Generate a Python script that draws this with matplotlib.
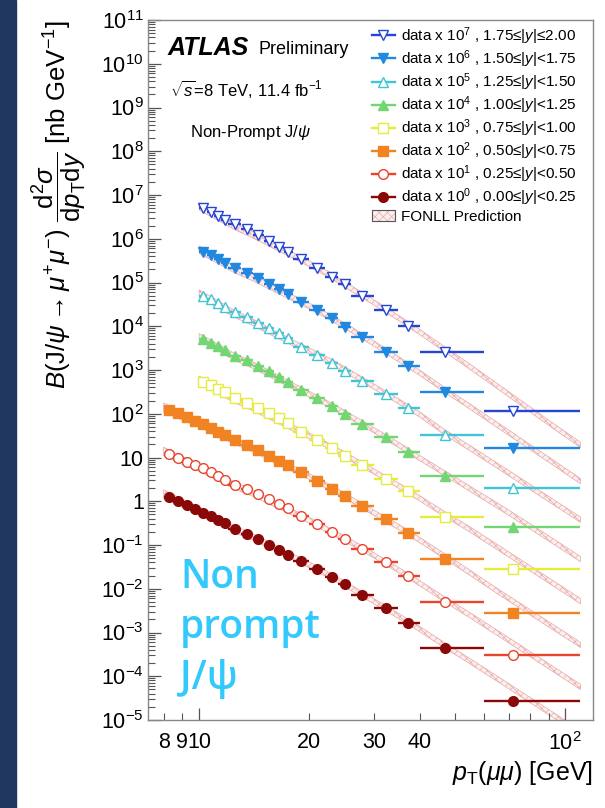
import matplotlib
matplotlib.use('Agg')
import matplotlib.pyplot as plt
import numpy as np
from matplotlib.ticker import FixedLocator, FixedFormatter, LogLocator, NullFormatter
from matplotlib.lines import Line2D
from matplotlib.patches import Patch, Rectangle

# ---------------- data ----------------
pt_edges_lo = [8, 8.5, 9, 9.5, 10, 10.5, 11, 11.5, 12, 13, 14, 15, 16, 17, 18, 20, 22, 24, 26, 30, 35, 40, 60, 110]
pt_mean_lo = [8.25, 8.75, 9.25, 9.75, 10.25, 10.75, 11.25, 11.75, 12.5, 13.5, 14.5, 15.5, 16.5, 17.5,
              19, 21, 23, 25, 27.8, 32.3, 37.3, 47, 72]
pt_edges_hi = pt_edges_lo[4:]
pt_mean_hi = pt_mean_lo[4:]

labels = [
    'data x 10$^{7}$ , 1.75≤|$y$|≤2.00',
    'data x 10$^{6}$ , 1.50≤|$y$|<1.75',
    'data x 10$^{5}$ , 1.25≤|$y$|<1.50',
    'data x 10$^{4}$ , 1.00≤|$y$|<1.25',
    'data x 10$^{3}$ , 0.75≤|$y$|<1.00',
    'data x 10$^{2}$ , 0.50≤|$y$|<0.75',
    'data x 10$^{1}$ , 0.25≤|$y$|<0.50',
    'data x 10$^{0}$ , 0.00≤|$y$|<0.25',
]

y_175_200 = [4.96e6, 4.0e6, 3.37e6, 2.75e6, 2.14e6, 1.64e6, 1.22e6, 8.9e5, 6.6e5, 5.07e5, 3.39e5, 2.11e5,
             1.36e5, 9.1e4, 4.9e4, 2.35e4, 1.03e4, 2620, 115.6]
y_150_175 = [5.07e5, 4.15e5, 3.45e5, 2.85e5, 2.2e5, 1.68e5, 1.25e5, 9.1e4, 7.1e4, 5.37e4, 3.64e4, 2.35e4,
             1.51e4, 9770, 5770, 2620, 1256, 309, 16.7]
y_125_150 = [5.0e4, 4.1e4, 3.4e4, 2.8e4, 2.1e4, 1.6e4, 1.2e4, 9000, 6900, 5300, 3410, 2200,
             1420, 964, 575, 285, 133, 32.7, 2.04]
y_100_125 = [5000, 4150, 3450, 2850, 2100, 1650, 1250, 948, 703, 545, 349, 225,
             150, 97, 58, 29, 13.5, 3.84, 0.254]
y_075_100 = [540, 445, 370, 310, 235, 180, 136, 104, 78, 60, 39, 25,
             16.7, 10.8, 6.7, 3.3, 1.7, 0.444, 0.0283]
y_050_075 = [122, 104, 86, 70, 57.3, 46.4, 38.9, 32.7, 25, 19.5, 14.5, 11, 8.5, 6.6,
             4.58, 2.95, 1.94, 1.32, 0.78, 0.39, 0.19, 0.0478, 2.74e-3]
y_025_050 = [12.0, 9.6, 8.0, 6.9, 5.7, 4.7, 3.8, 3.1, 2.35, 1.9, 1.47, 1.11, 0.865, 0.69,
             0.46, 0.30, 0.20, 0.135, 0.082, 0.041, 0.0195, 5.1e-3, 3.06e-4]
y_000_025 = [1.27, 1.0, 0.82, 0.67, 0.55, 0.45, 0.375, 0.313, 0.228, 0.175, 0.134, 0.100, 0.077, 0.059,
             0.0438, 0.0283, 0.0189, 0.0126, 0.0072, 0.00357, 0.00168, 4.5e-4, 2.7e-5]

fonll_pt_lo = [8, 9, 10, 11, 12.5, 14, 16, 18, 20, 23, 26, 30, 35, 40, 47, 55, 65, 77, 92, 110]
fonll_pt_hi = fonll_pt_lo[2:]
fonll_unc_lo = [0.26, 0.24, 0.22, 0.21, 0.20, 0.19, 0.18, 0.17, 0.17, 0.16, 0.16, 0.15, 0.15, 0.15,
                0.15, 0.15, 0.15, 0.15, 0.15, 0.15]
fonll_unc_hi = fonll_unc_lo[2:]

f_175_200 = [5.51e6, 3.545e6, 1.927e6, 1.244e6, 6.966e5, 4.197e5, 2.686e5, 1.401e5, 7.35e4, 3.5e4,
             1.55e4, 7400, 2911, 1176, 436, 158.6, 55.0, 19.4]
f_150_175 = [564100, 362800, 199500, 130200, 73790, 44670, 28980, 15360, 8418, 4036,
             1779, 869, 343.6, 144.7, 56.2, 21.6, 7.95, 2.87]
f_125_150 = [55600, 35450, 19050, 12440, 6880, 4215, 2750, 1520, 844, 418,
             193, 96.5, 37.1, 16.2, 6.6, 2.63, 1.0, 0.378]
f_100_125 = [5563, 3628, 1995, 1302, 729, 436, 279, 152, 84.5, 42.2,
             19.5, 9.73, 4.28, 1.91, 0.81, 0.331, 0.126, 0.0476]
f_075_100 = [596, 389, 214, 139.5, 79.1, 47.8, 31.2, 17.0, 9.57, 4.8,
             2.29, 1.17, 0.495, 0.224, 0.091, 0.0363, 0.0138, 5.2e-3]
f_050_075 = [140, 89, 61, 41.6, 24.0, 16.0, 9.18, 5.62, 3.66, 1.98, 1.10, 0.544, 0.26, 0.130,
             0.0542, 0.0229, 9.0e-3, 3.59e-3, 1.37e-3, 5.2e-4]
f_025_050 = [13.7, 8.6, 5.9, 3.98, 2.29, 1.55, 0.895, 0.556, 0.367, 0.202, 0.1155, 0.0582, 0.0269,
             0.01344, 5.6e-3, 2.45e-3, 9.97e-4, 3.98e-4, 1.51e-4, 5.7e-5]
f_000_025 = [1.45, 0.90, 0.61, 0.407, 0.229, 0.153, 0.0877, 0.0537, 0.035, 0.0189, 0.0105, 0.0052,
             0.0024, 0.0012, 5.0e-4, 2.19e-4, 8.9e-5, 3.55e-5, 1.35e-5, 5.1e-6]

# ---------------- styles ----------------
colors = ['#2446d6', '#2188e2', '#3fc5d6', '#72d672', '#e4ee3a', '#f28322', '#e8452c', '#8b0808']
markers = ['v', 'v', '^', '^', 's', 's', 'o', 'o']
filled = [False, True, False, True, False, True, False, True]
msizes = [7.5, 7.5, 7.5, 7.5, 6.5, 6.5, 7, 7]

series = [
    (pt_mean_hi, pt_edges_hi, y_175_200, fonll_pt_hi, f_175_200, fonll_unc_hi),
    (pt_mean_hi, pt_edges_hi, y_150_175, fonll_pt_hi, f_150_175, fonll_unc_hi),
    (pt_mean_hi, pt_edges_hi, y_125_150, fonll_pt_hi, f_125_150, fonll_unc_hi),
    (pt_mean_hi, pt_edges_hi, y_100_125, fonll_pt_hi, f_100_125, fonll_unc_hi),
    (pt_mean_hi, pt_edges_hi, y_075_100, fonll_pt_hi, f_075_100, fonll_unc_hi),
    (pt_mean_lo, pt_edges_lo, y_050_075, fonll_pt_lo, f_050_075, fonll_unc_lo),
    (pt_mean_lo, pt_edges_lo, y_025_050, fonll_pt_lo, f_025_050, fonll_unc_lo),
    (pt_mean_lo, pt_edges_lo, y_000_025, fonll_pt_lo, f_000_025, fonll_unc_lo),
]

plt.rcParams['font.family'] = ['Liberation Sans', 'DejaVu Sans']
plt.rcParams['mathtext.fontset'] = 'custom'
plt.rcParams['mathtext.rm'] = 'Liberation Sans'
plt.rcParams['mathtext.it'] = 'Liberation Sans:italic'
plt.rcParams['mathtext.bf'] = 'Liberation Sans:bold'
plt.rcParams['hatch.linewidth'] = 0.5

band_face = '#fdeeee'
band_edge = '#e6aaaa'

fig = plt.figure(figsize=(6.05, 8.08), dpi=100)
fig.patches.append(Rectangle((0, 0), 16 / 605, 1, transform=fig.transFigure,
                             color='#20375f', zorder=0))
ax = fig.add_axes([148 / 605, 1 - 720 / 808, 445 / 605, 700 / 808])

for i, (xm, edges, yv, fpt, fv, fu) in enumerate(series):
    fpt = np.array(fpt); fv = np.array(fv); fu = np.array(fu)
    ax.fill_between(fpt, fv / (1 + fu), fv * (1 + fu), facecolor=band_face,
                    edgecolor=band_edge, hatch='xxxx', linewidth=0.5, zorder=1)

for i, (xm, edges, yv, fpt, fv, fu) in enumerate(series):
    xm = np.array(xm); e = np.array(edges)
    xerr = [xm - e[:-1], e[1:] - xm]
    ax.errorbar(xm, yv, xerr=xerr, fmt=markers[i], color=colors[i],
                mfc=colors[i] if filled[i] else 'white', mec=colors[i], mew=1.0,
                ms=msizes[i], elinewidth=1.7, capsize=0, linestyle='none', zorder=3)

ax.set_xscale('log')
ax.set_yscale('log')
ax.set_xlim(7.25, 119)
ax.set_ylim(1e-5, 1e11)

ax.xaxis.set_major_locator(FixedLocator([10, 100]))
ax.xaxis.set_major_formatter(FixedFormatter(['10', '$10^{2}$']))
ax.xaxis.set_minor_locator(FixedLocator([8, 9, 20, 30, 40, 50, 60, 70, 80, 90]))
ax.xaxis.set_minor_formatter(FixedFormatter(['8', '9', '20', '30', '40', '', '', '', '', '']))

yt = [10.0 ** k for k in range(-5, 12)]
ylabs = []
for k in range(-5, 12):
    if k == 0:
        ylabs.append('1')
    elif k == 1:
        ylabs.append('10')
    else:
        ylabs.append('$10^{%d}$' % k)
ax.yaxis.set_major_locator(FixedLocator(yt))
ax.yaxis.set_major_formatter(FixedFormatter(ylabs))
ax.yaxis.set_minor_locator(LogLocator(base=10, subs=np.arange(2, 10), numticks=200))
ax.yaxis.set_minor_formatter(NullFormatter())

ax.tick_params(axis='both', which='both', direction='in', top=False, right=False,
               color='#555555', labelsize=15.5)
ax.tick_params(axis='both', which='major', length=9, width=0.9)
ax.tick_params(axis='both', which='minor', length=5, width=0.8)
ax.tick_params(axis='x', which='both', pad=9)
ax.tick_params(axis='y', which='both', pad=3)
for s in ax.spines.values():
    s.set_color('#888888')
    s.set_linewidth(1.0)

ax.text(-0.2, 1.0,
        r'$\mathit{B}(\mathrm{J}/\psi\rightarrow\mu^{+}\mu^{-})\ \dfrac{\mathrm{d}^{2}\sigma}{\mathrm{d}p_{\mathrm{T}}\mathrm{d}y}$ [nb GeV$^{-1}$]',
        rotation=90, ha='center', va='top', transform=ax.transAxes, fontsize=18.5)
ax.text(1.0, -0.0757, r'$p_{\mathrm{T}}(\mu\mu)$ [GeV]', ha='right', va='center',
        transform=ax.transAxes, fontsize=18)

fig.text(168 / 605, 1 - 48 / 808, 'ATLAS', fontsize=18, weight='bold', style='italic', va='center')
fig.text(258 / 605, 1 - 49 / 808, 'Preliminary', fontsize=13, va='center')
fig.text(170 / 605, 1 - 89 / 808, r'$\sqrt{s}$=8 TeV, 11.4 fb$^{-1}$', fontsize=12, va='center')
fig.text(190 / 605, 1 - 132 / 808, r'Non-Prompt J/$\psi$', fontsize=12, va='center')

fig.text(180 / 605, 1 - 558 / 808, 'Non\nprompt\nJ/ψ', fontsize=28, color='#33c9fc',
         ha='left', va='top', linespacing=1.35, weight='semibold',
         family=['Open Sans', 'DejaVu Sans'])

handles = []
for i in range(8):
    handles.append(Line2D([], [], color=colors[i], marker=markers[i],
                          mfc=colors[i] if filled[i] else 'white', mec=colors[i],
                          ms=msizes[i], lw=1.7))
fonll_handle = (Patch(facecolor=band_face, edgecolor=band_edge, hatch='xxxx', lw=0),
                Patch(facecolor='none', edgecolor='#555555', lw=0.8))
handles.append(fonll_handle)
leg = ax.legend(handles, labels + ['FONLL Prediction'], loc='upper left',
                bbox_to_anchor=((372 - 148) / 445, (720 - 25) / 700), frameon=False,
                fontsize=11, handlelength=1.5, handletextpad=0.4, labelspacing=0.1,
                borderpad=0, borderaxespad=0)

fig.savefig('out.png', dpi=100)
